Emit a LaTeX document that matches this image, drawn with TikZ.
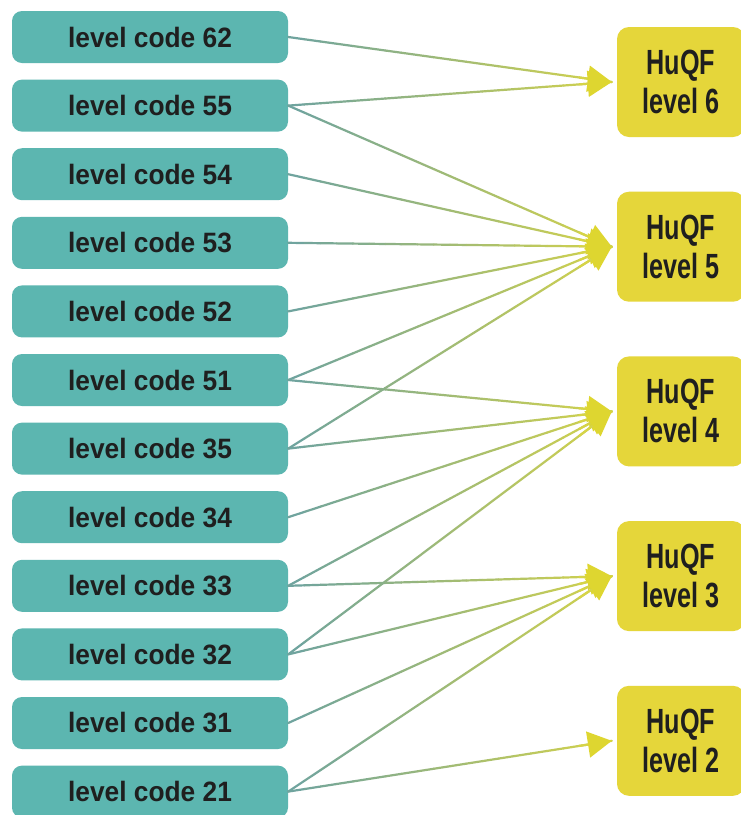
\documentclass[tikz,border=0pt]{standalone}
\usepackage{fontspec}
\setmainfont{Liberation Sans}[FakeStretch=0.94]
\newfontfamily\huqffont{Liberation Sans}[FakeStretch=0.72]
\usetikzlibrary{arrows.meta,calc}

\definecolor{codeteal}{RGB}{92,182,176}
\definecolor{huqfyellow}{RGB}{229,214,58}
\definecolor{linestart}{RGB}{112,164,158}
\definecolor{lineend}{RGB}{214,212,72}
\definecolor{tipyellow}{RGB}{222,214,48}

\tikzset{
  codebox/.style={fill=codeteal, rounded corners=10pt, minimum width=276pt, minimum height=52pt,
    inner sep=0pt, text=black!88, font=\fontsize{28}{32}\selectfont\bfseries},
  huqfbox/.style={fill=huqfyellow, rounded corners=12pt, minimum width=128pt, minimum height=110pt,
    inner sep=0pt, align=center, text=black!88, font=\huqffont\fontsize{35}{39}\selectfont\bfseries},
  link/.style={line width=2.2pt, line cap=round},
}

% connector fading from teal-grey to yellow
\newcommand{\fadelink}[2]{%
  \foreach \k [evaluate=\k as \ta using \k/20, evaluate=\k as \tb using (\k+1)/20,
               evaluate=\k as \pct using int(5*\k)] in {0,...,19}{
    \draw[link, draw=lineend!\pct!linestart] ($(#1)!\ta!(#2)$) -- ($(#1)!\tb!(#2)$);
  }
  \draw[link, draw=lineend, -{Triangle[length=24pt,width=26pt,color=tipyellow]}] ($(#1)!0.9!(#2)$) -- (#2);
}

\begin{document}
\begin{tikzpicture}[x=1pt,y=-1pt]
  % page
  \fill[white] (0,0) rectangle (740,815);
  \useasboundingbox (0,0) rectangle (740,815);
  % level codes
  \foreach \code [count=\i from 0] in {62,55,54,53,52,51,35,34,33,32,31,21}{
    \node[codebox] (c\code) at (150,{37+68.6*\i}) {level code \code};
  }
  % HuQF levels
  \foreach \lv [count=\i from 0] in {6,5,4,3,2}{
    \node[huqfbox] (h\lv) at (681,{82+164.7*\i}) {HuQF\\level \lv};
    \coordinate (t\lv) at ($(h\lv.west)+(-5,0)$);
  }
  % mapping
  \foreach \src/\dst in {62/6,55/6,55/5,54/5,53/5,52/5,51/5,35/5,51/4,35/4,34/4,33/4,32/4,
                         33/3,32/3,31/3,21/3,21/2}{
    \fadelink{c\src.east}{t\dst}
  }
\end{tikzpicture}
\end{document}
